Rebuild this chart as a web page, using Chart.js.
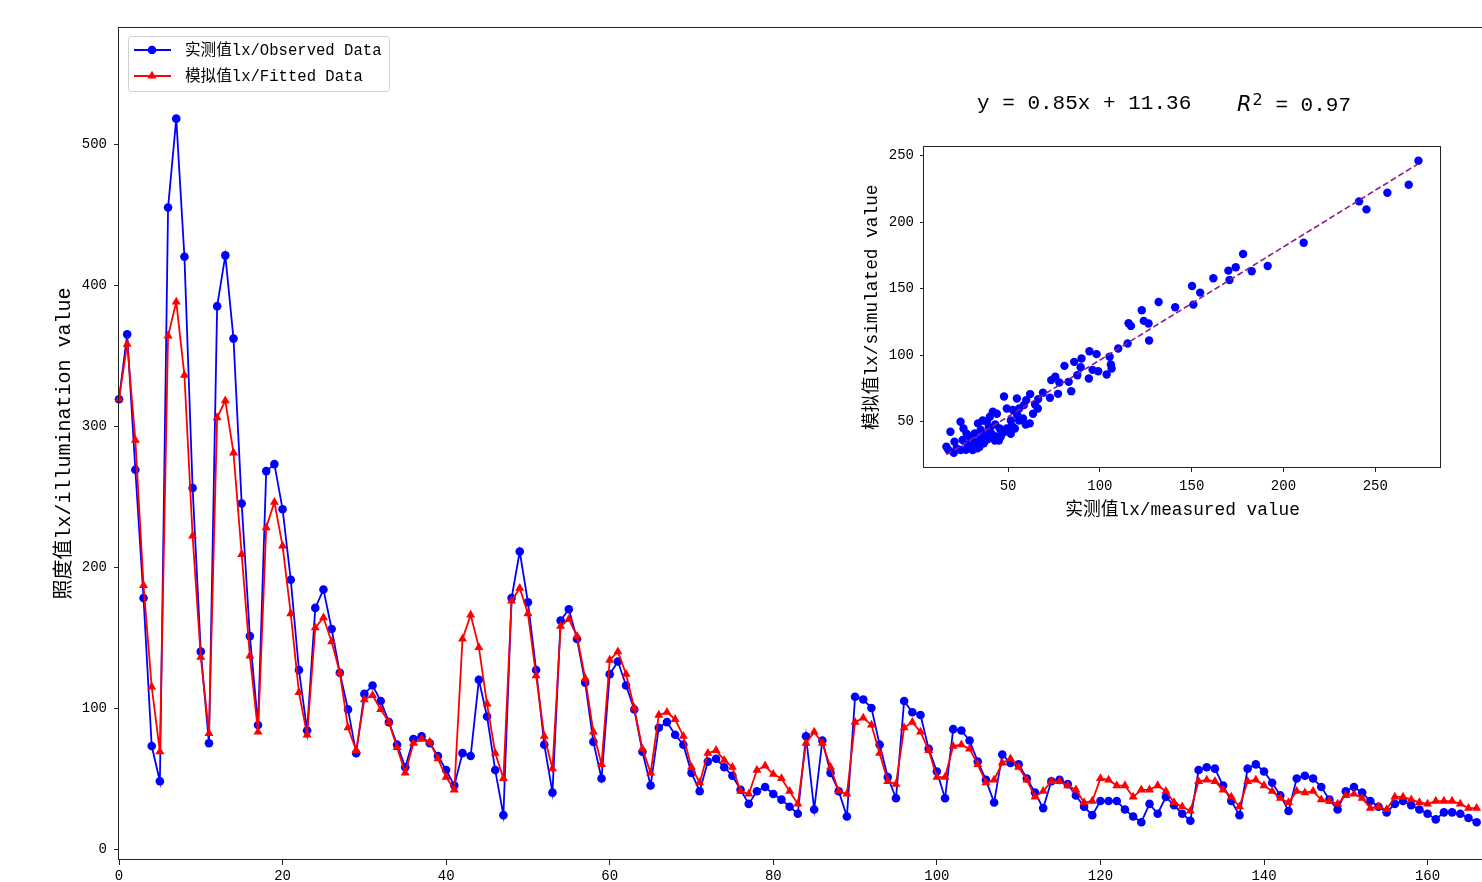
<!DOCTYPE html>
<html>
<head>
<meta charset="utf-8">
<script src="https://cdn.jsdelivr.net/npm/chart.js@4.4.0/dist/chart.umd.min.js"></script>
<style>
html,body{margin:0;padding:0;background:#fff;overflow:hidden;width:1482px;height:882px;}
#main{position:absolute;left:0;top:0;}
#inset{position:absolute;left:840px;top:132px;}
.eq{position:absolute;top:91px;font-family:'Liberation Mono','Noto Sans CJK SC',monospace;font-size:21px;line-height:26px;color:#000;white-space:pre;}
.eq i{font-family:'DejaVu Sans',sans-serif;font-style:italic;}
.eq sup{font-family:'DejaVu Sans',sans-serif;font-size:16px;position:relative;top:-4px;vertical-align:top;margin-left:1px;}
</style>
</head>
<body>
<canvas id="main" width="1500" height="882"></canvas>
<canvas id="inset" width="620" height="394"></canvas>
<div class="eq" style="left:977px">y = 0.85x + 11.36</div>
<div class="eq" style="left:1237px"><i>R</i><sup>2</sup><span> = 0.97</span></div>
<script>
// ---------- main chart data ----------
const observedLabel = '实测值lx/Observed Data';
const fittedLabel = '模拟值lx/Fitted Data';
const observed = [
  319,365,269,178,73,48,455,518,420,256,
  140,75,385,421,362,245,151,88,268,273,
  241,191,127,84,171,184,156,125,99,68,
  110,116,105,90,74,58,78,80,75,66,
  56,45,68,66,120,94,56,24,178,211,
  175,127,74,40,162,170,149,118,76,50,
  124,133,116,99,69,45,86,90,81,74,
  54,41,62,64,58,52,42,32,41,44,
  39,35,30,25,80,28,77,54,41,23,
  108,106,100,74,51,36,105,97,95,71,
  55,36,85,84,77,62,49,33,67,61,
  60,50,40,29,48,49,46,38,30,24,
  34,34,34,28,23,19,32,25,37,31,
  25,20,56,58,57,45,34,24,57,60,
  55,47,38,27,50,52,50,44,35,28,
  41,44,40,34,30,26,32,34,31,28,
  25,21,26,26,25,22,19
];
const fitted = [
  319,358,290,187,115,69,364,388,336,222,
  136,82,306,318,281,209,137,83,228,246,
  215,167,111,81,157,164,147,125,86,70,
  106,109,99,90,72,54,75,78,76,64,
  51,42,149,166,143,103,68,50,176,185,
  167,123,80,57,158,163,151,121,83,60,
  134,140,124,100,71,54,95,97,92,80,
  58,47,68,70,63,58,41,39,56,59,
  53,50,41,32,75,83,75,58,41,39,
  90,93,88,68,48,46,86,90,83,70,
  51,51,73,74,71,60,47,49,61,64,
  58,49,37,41,48,48,45,42,33,34,
  50,49,45,45,37,42,42,45,41,33,
  30,27,48,49,48,42,37,30,48,49,
  45,41,36,33,41,40,41,35,34,32,
  38,39,36,29,30,28,37,37,35,33,
  32,34,34,34,32,29,29
];
const mainXTicks = [0,20,40,60,80,100,120,140,160];
const mainYTicks = [0,100,200,300,400,500];
const mainYTitle = '照度值lx/illumination value';

// ---------- inset data ----------
const measured = [
  273.5,268.2,256.6,241.2,245.2,211,191.4,178,182.7,174,
  170,170.6,161.8,154.6,150.2,150.9,141,132,122.8,123.9,
  126.5,126.8,115.6,116.9,115.1,110,105.3,106,106.4,103.7,
  99.1,98.2,94.3,96,94,90,89.5,86,87.7,80.7,
  84.4,83,77.9,75.7,73.5,77.2,72.8,69,66.4,64.7,
  66.2,62,59.9,58.6,54.8,56,52.6,49.3,47.8,51.5,
  56,59.6,53.7,51.5,48.2,45.4,43.9,41.7,40.1,38.4,
  36.2,33.6,39.5,41,42.8,38.8,36.8,34.4,30.7,27.4,
  25.7,24.1,20.8,18.6,20.4,16.4,17.5,24.1,25.2,29.2,
  31.8,35.1,46,49.3,58.1,61.8,63.6,22,28,32,
  37,44,47,30,35,40,27,33,43,52,
  45,55
];
const simulated = [
  246,228,222,215.5,209.5,184.5,167,176,163,166,
  163.5,156.5,157.8,147,152,138,136,140,133.8,125.8,
  123.8,111,124,122,108.8,105,98.8,93,90,85.5,
  88,100.8,103,89,82.5,97.5,91,95,85,92,
  73,80,79.5,83.8,81.3,71,68,71.8,67,63,
  60,70.8,66.3,62.5,67.5,60,58.8,60,69,51,
  51,48,45,41,42.5,45,56,57.5,53.8,50,
  51,48.8,46,41,36,36.8,33.8,31,28.8,41,
  45,50,35,42.5,26.8,31.3,28.8,28.8,36.3,38.8,
  41.3,43.8,38.8,45,52.5,48.8,56,30,33,35,
  40,39,42,31,37,44,29,30,48,47,
  36,55
];
const fitSlope = 0.85;
const fitIntercept = 11.36;
const insetXTicks = [50,100,150,200,250];
const insetYTicks = [50,100,150,200,250];
const insetXTitle = '实测值lx/measured value';
const insetYTitle = '模拟值lx/simulated value';

const FONT = "'Liberation Mono','Noto Sans CJK SC',monospace";

const framePlugin = {
  id: 'frame',
  afterDraw(chart) {
    const {ctx, chartArea: a} = chart;
    ctx.save();
    ctx.strokeStyle = '#222';
    ctx.lineWidth = 1;
    const l = Math.round(a.left) - 0.5, t = Math.round(a.top) + 0.5;
    const r = Math.round(a.right) - 0.5, b = Math.round(a.bottom) - 0.5;
    ctx.strokeRect(l, t, r - l, b - t);
    ctx.restore();
  }
};

const legendPlugin = {
  id: 'boxLegend',
  afterDraw(chart) {
    const ctx = chart.ctx;
    ctx.save();
    const x = 128.5, y = 36.5, w = 261, h = 55, rad = 3;
    ctx.beginPath();
    ctx.moveTo(x + rad, y);
    ctx.arcTo(x + w, y, x + w, y + h, rad);
    ctx.arcTo(x + w, y + h, x, y + h, rad);
    ctx.arcTo(x, y + h, x, y, rad);
    ctx.arcTo(x, y, x + w, y, rad);
    ctx.closePath();
    ctx.fillStyle = 'rgba(255,255,255,0.85)';
    ctx.fill();
    ctx.strokeStyle = '#d0d0d0';
    ctx.lineWidth = 1;
    ctx.stroke();
    const rows = [50, 76];
    chart.data.datasets.forEach((ds, i) => {
      const ry = rows[i];
      ctx.strokeStyle = ds.borderColor;
      ctx.lineWidth = ds.borderWidth;
      ctx.beginPath();
      ctx.moveTo(134, ry);
      ctx.lineTo(171, ry);
      ctx.stroke();
      ctx.fillStyle = ds.backgroundColor;
      Chart.helpers.drawPoint(ctx, {pointStyle: ds.pointStyle, radius: ds.pointRadius, rotation: 0, borderWidth: 0}, 152, ry);
      ctx.fillStyle = '#000';
      ctx.font = '15.6px ' + FONT;
      ctx.textBaseline = 'middle';
      ctx.textAlign = 'left';
      ctx.fillText(ds.label, 185, ry + 1);
    });
    ctx.restore();
  }
};

const obsPts = observed.map((v, i) => ({x: i, y: v}));
const fitPts = fitted.map((v, i) => ({x: i, y: v}));

new Chart(document.getElementById('main'), {
  type: 'line',
  data: {
    datasets: [
      {label: observedLabel, data: obsPts, borderColor: '#0000ff', backgroundColor: '#0000ff',
       borderWidth: 1.8, pointStyle: 'circle', pointRadius: 4.3, pointBorderWidth: 0,
       pointHoverRadius: 4.3, tension: 0, order: 1, clip: 8},
      {label: fittedLabel, data: fitPts, borderColor: '#ff0000', backgroundColor: '#ff0000',
       borderWidth: 1.8, pointStyle: 'triangle', pointRadius: 5.2, pointBorderWidth: 0,
       pointHoverRadius: 5.2, tension: 0, order: 0, clip: 8}
    ]
  },
  options: {
    responsive: false,
    animation: false,
    devicePixelRatio: 1,
    layout: {padding: {left: 0, top: 27, right: 7, bottom: 0}},
    plugins: {legend: {display: false}, tooltip: {enabled: false}},
    scales: {
      x: {
        type: 'linear', min: 0, max: 168,
        afterBuildTicks: s => { s.ticks = mainXTicks.map(v => ({value: v})); },
        afterFit: s => { s.height = 22; },
        grid: {display: true, drawOnChartArea: false, drawTicks: true, tickLength: 5, color: '#222', tickWidth: 1},
        border: {display: false},
        ticks: {color: '#000', font: {family: FONT, size: 14}, padding: 3, maxRotation: 0, autoSkip: false}
      },
      y: {
        type: 'linear', min: -7.8, max: 583,
        afterBuildTicks: s => { s.ticks = mainYTicks.map(v => ({value: v})); },
        afterFit: s => { s.width = 119; },
        grid: {display: true, drawOnChartArea: false, drawTicks: true, tickLength: 5, color: '#222', tickWidth: 1},
        border: {display: false},
        ticks: {color: '#000', font: {family: FONT, size: 14}, padding: 7},
        title: {display: true, text: mainYTitle, color: '#000', font: {family: FONT, size: 20}, padding: {top: 53, bottom: 0}}
      }
    }
  },
  plugins: [framePlugin, legendPlugin]
});

const xMin = Math.min(...measured), xMax = Math.max(...measured);
const fitLine = [
  {x: xMin, y: fitSlope * xMin + fitIntercept},
  {x: xMax, y: fitSlope * xMax + fitIntercept}
];
const scatterPts = measured.map((v, i) => ({x: v, y: simulated[i]}));

new Chart(document.getElementById('inset'), {
  type: 'scatter',
  data: {
    datasets: [
      {label: 'points', data: scatterPts, backgroundColor: '#0000ff', borderWidth: 0,
       pointRadius: 4.2, pointHoverRadius: 4.2, order: 1},
      {type: 'line', label: 'fit', data: fitLine, borderColor: '#8b1a8b', borderWidth: 1.6,
       borderDash: [6, 3], pointRadius: 0, fill: false, order: 0}
    ]
  },
  options: {
    responsive: false,
    animation: false,
    devicePixelRatio: 1,
    layout: {padding: {left: 0, top: 10, right: 19, bottom: 0}},
    plugins: {legend: {display: false}, tooltip: {enabled: false}},
    scales: {
      x: {
        type: 'linear', min: 4.2, max: 285.8,
        afterBuildTicks: s => { s.ticks = insetXTicks.map(v => ({value: v})); },
        afterFit: s => { s.height = 58; },
        grid: {display: true, drawOnChartArea: false, drawTicks: true, tickLength: 4, color: '#222'},
        border: {display: false},
        ticks: {color: '#000', font: {family: FONT, size: 14}, padding: 6, maxRotation: 0, autoSkip: false},
        title: {display: true, text: insetXTitle, color: '#000', font: {family: FONT, size: 17.8}, padding: {top: 0, bottom: 5}}
      },
      y: {
        type: 'linear', min: 15.3, max: 256.8,
        afterBuildTicks: s => { s.ticks = insetYTicks.map(v => ({value: v})); },
        afterFit: s => { s.width = 84; },
        grid: {display: true, drawOnChartArea: false, drawTicks: true, tickLength: 4, color: '#222'},
        border: {display: false},
        ticks: {color: '#000', font: {family: FONT, size: 14}, padding: 6},
        title: {display: true, text: insetYTitle, color: '#000', font: {family: FONT, size: 17.8}, padding: {top: 22, bottom: 0}}
      }
    }
  },
  plugins: [framePlugin]
});
</script>
</body>
</html>
